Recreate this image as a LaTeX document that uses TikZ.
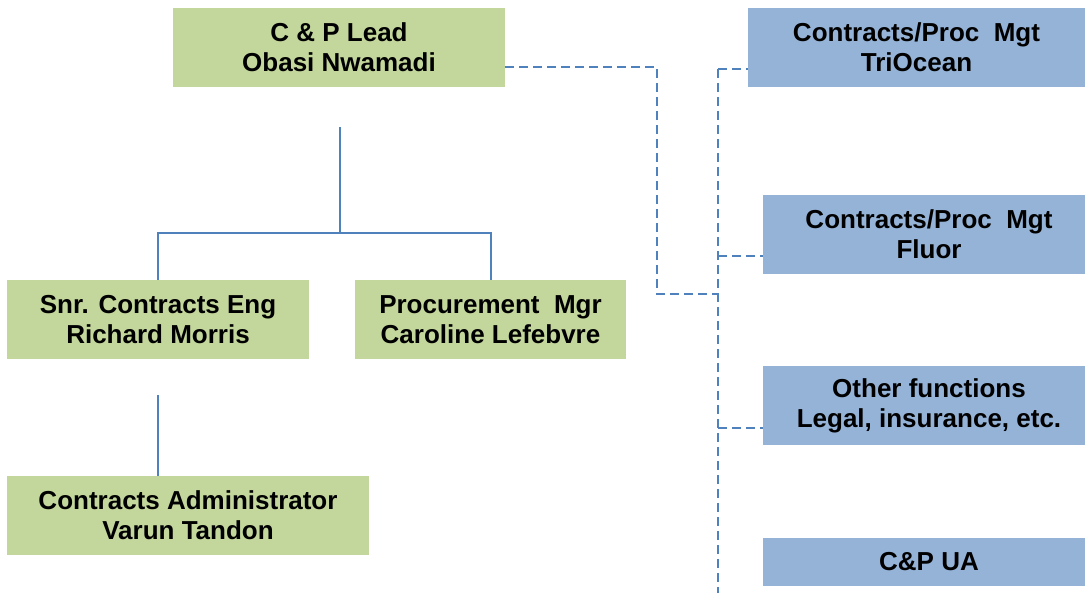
\documentclass[tikz,border=0pt]{standalone}
\usepackage{fontspec}
\setmainfont{Liberation Sans}
\definecolor{boxgreen}{HTML}{C3D69B}
\definecolor{boxblue}{HTML}{95B3D7}
\definecolor{linkblue}{HTML}{4F81BD}
\begin{document}
\begin{tikzpicture}[x=1pt,y=-1pt,
  card/.style={inner sep=0pt, align=center, text=black,
    font=\bfseries\fontsize{26}{30}\selectfont},
  green card/.style={card, fill=boxgreen},
  blue card/.style={card, fill=boxblue},
  solidlink/.style={draw=linkblue, line width=2pt},
  dashlink/.style={draw=linkblue, line width=2pt, dash pattern=on 9pt off 5pt},
]
\useasboundingbox (0,0) rectangle (1085,598);

% C&P team (green)
\node[green card, minimum width=332pt, minimum height=79pt] (lead) at (339,47.5)
  {C \& P Lead\\Obasi Nwamadi};
\node[green card, minimum width=302pt, minimum height=79pt] (snr) at (158,319.5)
  {Snr. Contracts Eng\\Richard Morris};
\node[green card, minimum width=271pt, minimum height=79pt] (proc) at (490.5,319.5)
  {Procurement\ \ Mgr\\Caroline Lefebvre};
\node[green card, minimum width=362pt, minimum height=79pt] (admin) at (188,515.5)
  {Contracts Administrator\\Varun Tandon};

% supporting functions (blue)
\node[blue card, minimum width=337pt, minimum height=79pt] (tri) at (916.5,47.5)
  {Contracts/Proc\ \ Mgt\\TriOcean};
\node[blue card, minimum width=332pt, minimum height=79pt] (fluor) at (929,234.5)
  {Contracts/Proc\ \ Mgt\\Fluor};
\node[blue card, minimum width=332pt, minimum height=79pt] (other) at (929,405.5)
  {Other functions\\Legal, insurance, etc.};
\node[blue card, minimum width=332pt, minimum height=48pt] (ua) at (929,562)
  {C\&P UA};

% reporting lines
\coordinate (stemtop) at (340,127);
\coordinate (bar) at (340,233);
\coordinate (snrstem) at (158,395);
\draw[solidlink] (stemtop) -- (bar);
\draw[solidlink] (snr.north) |- (bar) -| (proc.north);
\draw[solidlink] (snrstem) -- (snrstem |- admin.north);

% dotted-line relationships
\coordinate (leadtap) at (505,67);
\coordinate (elbow) at (657,294);
\coordinate (spinetop) at (718,69);
\coordinate (spinebot) at (718,593);
\coordinate (fluortap) at (718,256);
\coordinate (othertap) at (718,428);
\draw[dashlink] (leadtap) -| (elbow) -- (elbow -| spinetop);
\draw[dashlink] (spinetop) -- (spinebot);
\draw[dashlink] (spinetop) -- (spinetop -| tri.west);
\draw[dashlink] (fluortap) -- (fluortap -| fluor.west);
\draw[dashlink] (othertap) -- (othertap -| other.west);
\end{tikzpicture}
\end{document}
